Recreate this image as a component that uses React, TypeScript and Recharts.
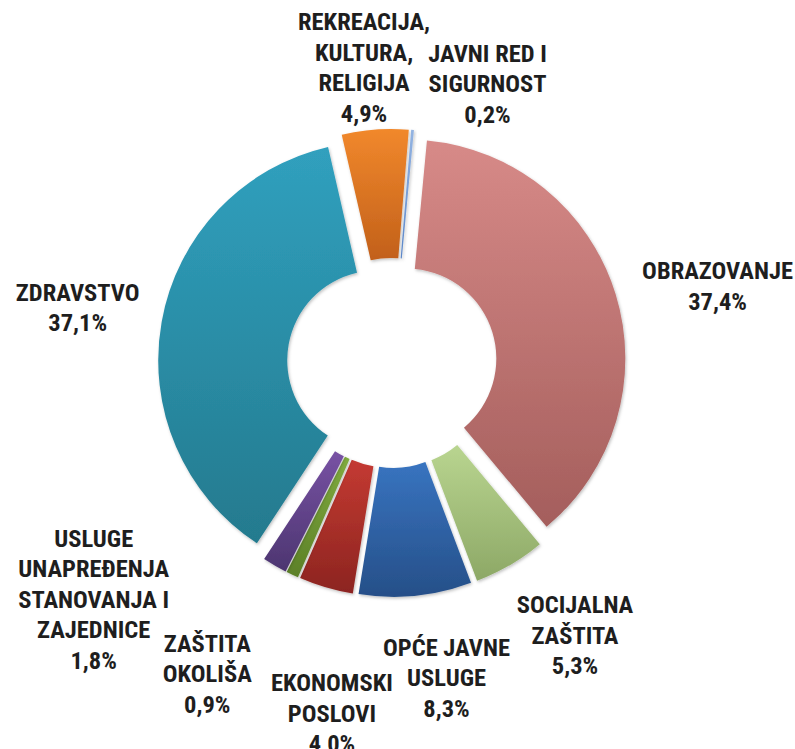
import React from "react";
import { PieChart, Pie, Cell, Sector } from "recharts";

const categories = [
  "OBRAZOVANJE",
  "SOCIJALNA\nZAŠTITA",
  "OPĆE JAVNE\nUSLUGE",
  "EKONOMSKI\nPOSLOVI",
  "ZAŠTITA\nOKOLIŠA",
  "USLUGE\nUNAPREĐENJA\nSTANOVANJA I\nZAJEDNICE",
  "ZDRAVSTVO",
  "REKREACIJA,\nKULTURA,\nRELIGIJA",
  "JAVNI RED I\nSIGURNOST",
];
const shares = [37.4, 5.3, 8.3, 4.0, 0.9, 1.8, 37.1, 4.9, 0.2];

const gradTop = ["#D78A88", "#B9D590", "#3874C0", "#C43A32", "#80AB3E", "#7852A4", "#30A0BE", "#F1882C", "#94B4E2"];
const gradBottom = ["#A45E5C", "#8DA866", "#264F88", "#8C2420", "#5C8028", "#4C3570", "#247A8E", "#C2601A", "#5A86C8"];

// label block offsets from the slice's outer midpoint
const labelOffsets: [number, number][] = [
  [102, -8], [65, 70], [31, 82], [6, 126], [-85, 99], [-181, 34], [-84, -14], [-11, -62], [75, -46],
];

const data = categories.map((name, i) => ({ name, value: shares[i] }));

const EXPLODE = 15;
const RAD = Math.PI / 180;
const LH = 30.5;

const ExplodedSector = (props: any) => {
  const { cx, cy, midAngle, innerRadius, outerRadius, startAngle, endAngle, fill } = props;
  const ox = EXPLODE * Math.cos(-midAngle * RAD);
  const oy = EXPLODE * Math.sin(-midAngle * RAD);
  return (
    <Sector
      cx={cx + ox}
      cy={cy + oy}
      innerRadius={innerRadius}
      outerRadius={outerRadius}
      startAngle={startAngle}
      endAngle={endAngle}
      fill={fill}
      stroke="none"
      filter="url(#sh)"
    />
  );
};

const renderLabel = (props: any) => {
  const { cx, cy, midAngle, outerRadius, index, value } = props;
  const r = outerRadius + EXPLODE;
  const px = cx + r * Math.cos(-midAngle * RAD);
  const py = cy + r * Math.sin(-midAngle * RAD);
  const [dx, dy] = labelOffsets[index];
  const x = px + dx;
  const lines = [...categories[index].split("\n"), value.toFixed(1).replace(".", ",") + "%"];
  const y0 = py + dy - ((lines.length - 1) / 2) * LH;
  return (
    <text
      x={x}
      y={y0}
      textAnchor="middle"
      fill="#1E1E1E"
      fontSize={24.5}
      fontWeight="bold"
      fontFamily="'Liberation Sans Narrow', 'Roboto Condensed', 'Open Sans', sans-serif"
    >
      {lines.map((l, i) => (
        <tspan key={i} x={x} y={y0 + i * LH} dominantBaseline="central">
          {l}
        </tspan>
      ))}
    </text>
  );
};

export default function App() {
  return (
    <div style={{ position: "absolute", left: 0, top: 0, background: "#fff" }}>
      <PieChart width={795} height={749} margin={{ top: 0, right: 0, bottom: 0, left: 0 }}>
        <defs>
          {categories.map((_, i) => (
            <linearGradient key={i} id={`g${i}`} x1="0" y1="0" x2="0" y2="1">
              <stop offset="0%" stopColor={gradTop[i]} />
              <stop offset="100%" stopColor={gradBottom[i]} />
            </linearGradient>
          ))}
          <filter id="sh" x="-20%" y="-20%" width="140%" height="140%">
            <feDropShadow dx="1" dy="1.5" stdDeviation="1.5" floodColor="#000" floodOpacity="0.25" />
          </filter>
        </defs>
        <Pie
          data={data}
          dataKey="value"
          nameKey="name"
          cx={392}
          cy={363}
          innerRadius={90}
          outerRadius={219}
          startAngle={84.6}
          endAngle={-275.4}
          stroke="none"
          isAnimationActive={false}
          shape={ExplodedSector}
          activeShape={ExplodedSector}
          inactiveShape={ExplodedSector}
          label={renderLabel}
          labelLine={false}
        >
          {data.map((_, i) => (
            <Cell key={i} fill={`url(#g${i})`} />
          ))}
        </Pie>
      </PieChart>
    </div>
  );
}
